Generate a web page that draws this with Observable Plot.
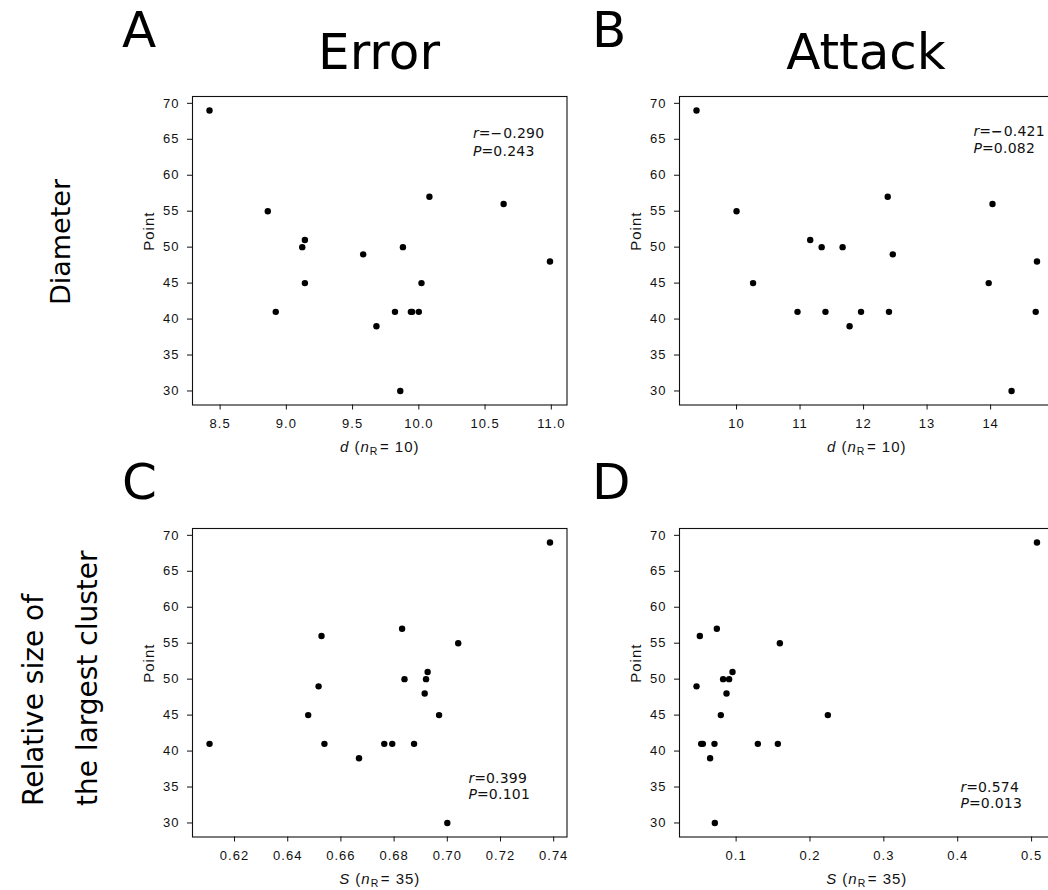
<!DOCTYPE html>
<html>
<head>
<meta charset="utf-8">
<script src="https://cdn.jsdelivr.net/npm/d3@7"></script>
<script src="https://cdn.jsdelivr.net/npm/@observablehq/plot@0.6"></script>
<style>
  html, body { margin: 0; padding: 0; background: #fff; overflow: hidden; }
  #fig { position: relative; width: 1048px; height: 890px; overflow: hidden; background: #fff; }
  .panel { position: absolute; }
  .panel svg { display: block; }
  #overlay { position: absolute; left: 0; top: 0; pointer-events: none; }
</style>
</head>
<body>
<div id="fig"></div>
<script>
// ---------------- DATA ----------------
const colTitles = ["Error", "Attack"];
const panelLetters = ["A", "B", "C", "D"];
const rowTitleDiameter = ["Diameter"];
const rowTitleCluster = ["Relative size of", "the largest cluster"];
const yLabel = "Point";
const yTicks = [30, 35, 40, 45, 50, 55, 60, 65, 70];

// Panel A: Error, diameter d
const dA = [8.42, 8.86, 8.92, 9.12, 9.14, 9.14, 9.58, 9.68, 9.82, 9.88, 9.86, 9.94, 9.95, 10.00, 10.02, 10.08, 10.64, 10.99];
const pA = [69, 55, 41, 50, 51, 45, 49, 39, 41, 50, 30, 41, 41, 41, 45, 57, 56, 48];
const xTicksA = [8.5, 9.0, 9.5, 10.0, 10.5, 11.0];

// Panel B: Attack, diameter d
const dB = [9.37, 10.00, 10.26, 10.96, 11.16, 11.34, 11.40, 11.67, 11.78, 11.96, 12.38, 12.40, 12.46, 13.97, 14.03, 14.33, 14.71, 14.73];
const pB = [69, 55, 45, 41, 51, 50, 41, 50, 39, 41, 57, 41, 49, 45, 56, 30, 41, 48];
const xTicksB = [10, 11, 12, 13, 14];

// Panel C: Error, relative size S
const sC = [0.6106, 0.6477, 0.6516, 0.6527, 0.6538, 0.6668, 0.6763, 0.6793, 0.6830, 0.6839, 0.6875, 0.6915, 0.6920, 0.6926, 0.6969, 0.7000, 0.7041, 0.7386];
const pC = [41, 45, 49, 56, 41, 39, 41, 41, 57, 50, 41, 48, 50, 51, 45, 30, 55, 69];
const xTicksC = [0.62, 0.64, 0.66, 0.68, 0.70, 0.72, 0.74];

// Panel D: Attack, relative size S
const sD = [0.0464, 0.0509, 0.0527, 0.0550, 0.0648, 0.0707, 0.0712, 0.0739, 0.0793, 0.0824, 0.0870, 0.0905, 0.0951, 0.1294, 0.1565, 0.1592, 0.2242, 0.5073];
const pD = [49, 56, 41, 41, 39, 41, 30, 57, 45, 50, 48, 50, 51, 41, 41, 55, 45, 69];
const xTicksD = [0.1, 0.2, 0.3, 0.4, 0.5];

// Statistics
const rVals = ["\u22120.290", "\u22120.421", "0.399", "0.574"];
const pVals = ["0.243", "0.082", "0.101", "0.013"];
const xVarNames = ["d", "d", "S", "S"];
const nR = ["10", "10", "35", "35"];

// ---------------- LAYOUT ----------------
const FW = 374.5, FH = 308.5;
const ML = 60, MR = 12, MT = 10, MB = 62;
const fig = d3.select("#fig");

function pad(vals) {
  const lo = d3.min(vals), hi = d3.max(vals), m = (hi - lo) * 0.05;
  return [lo - m, hi + m];
}

const panels = [
  {x: dA, y: pA, ticks: xTicksA, fmt: ".1f", L: 192, T: 96, anchor: "top-right", dx: -94, dy1: 41.5, dy2: 59, boldMinus: false},
  {x: dB, y: pB, ticks: xTicksB, fmt: "d", L: 678.5, T: 96, anchor: "top-right", dx: -80.5, dy1: 39, dy2: 56, boldMinus: true},
  {x: sC, y: pC, ticks: xTicksC, fmt: ".2f", L: 192, T: 528, anchor: "bottom-right", dx: -98.5, dy1: -54, dy2: -38.5, boldMinus: false},
  {x: sD, y: pD, ticks: xTicksD, fmt: ".1f", L: 678.5, T: 528, anchor: "bottom-right", dx: -93.5, dy1: -45.5, dy2: -29, boldMinus: false}
];

panels.forEach((pn, i) => {
  const rich = new Map();
  const data = pn.x.map((v, j) => ({x: v, y: pn.y[j]}));
  const xKey = `${xVarNames[i]} (nR = ${nR[i]})`;
  const rKey = `r=${rVals[i]}`;
  const pKey = `P=${pVals[i]}`;
  const neg = rVals[i].startsWith("\u2212");
  rich.set(xKey, {parts: [[xVarNames[i], {italic: true}], [" ("], ["n", {italic: true}], ["R", {sub: true}], ["= " + nR[i] + ")", {back: true}]]});
  rich.set(rKey, {stat: true, parts: [["r", {italic: true}], ["="], [neg ? "\u2212" : "", {bold: pn.boldMinus}], [rVals[i].replace("\u2212", ""), {ls: 0.2, dx: neg ? 1 : 0}]]});
  rich.set(pKey, {stat: true, parts: [["P", {italic: true}], ["="], [pVals[i], {ls: 0.3}]]});

  const svg = Plot.plot({
    width: ML + FW + MR,
    height: MT + FH + MB,
    marginLeft: ML, marginRight: MR, marginTop: MT, marginBottom: MB,
    style: {
      fontFamily: "'Liberation Sans', Arial, sans-serif",
      fontSize: "13px",
      letterSpacing: "1px",
      background: "transparent",
      color: "#111",
      maxWidth: "none",
      overflow: "visible"
    },
    x: {domain: pad(pn.x)},
    y: {domain: pad(pn.y)},
    marks: [
      Plot.axisX({ticks: pn.ticks, tickFormat: d3.format(pn.fmt), tickSize: 5, tickPadding: 9, label: null}),
      Plot.axisY({ticks: yTicks, tickSize: 5, tickPadding: 8, label: null}),
      Plot.dot(data, {x: "x", y: "y", r: 3.2, fill: "#000"}),
      Plot.frame({strokeWidth: 1.1}),
      Plot.text([xKey], {frameAnchor: "bottom", dy: 46.5, lineAnchor: "bottom", fontSize: 15}),
      Plot.text([yLabel], {frameAnchor: "left", dx: -39, rotate: -90, lineAnchor: "bottom", fontSize: 15}),
      Plot.text([rKey], {frameAnchor: pn.anchor, textAnchor: "start", lineAnchor: "bottom", dx: pn.dx, dy: pn.dy1,
        fontFamily: "'DejaVu Sans', sans-serif", fontSize: 14}),
      Plot.text([pKey], {frameAnchor: pn.anchor, textAnchor: "start", lineAnchor: "bottom", dx: pn.dx, dy: pn.dy2,
        fontFamily: "'DejaVu Sans', sans-serif", fontSize: 14})
    ]
  });

  // rich text (italic / subscript) post-processing
  d3.select(svg).selectAll("text").each(function () {
    if (this.children.length) return;
    const spec = rich.get(this.textContent);
    if (!spec) return;
    const el = d3.select(this);
    if (spec.stat) el.attr("letter-spacing", "0");
    this.textContent = "";
    spec.parts.forEach(([t, o = {}]) => {
      if (!t) return;
      const ts = el.append("tspan").text(t);
      if (o.italic) ts.attr("font-style", "italic");
      if (o.bold) ts.attr("font-weight", "bold");
      if (o.sub) ts.attr("font-size", "10.5px").attr("dy", "3").attr("letter-spacing", "0.5px");
      if (o.back) ts.attr("dy", "-3").attr("dx", "2");
      if (o.dx) ts.attr("dx", o.dx);
      if (o.ls) ts.attr("letter-spacing", o.ls + "px");
    });
  });

  fig.append("div")
    .attr("class", "panel")
    .style("left", (pn.L - ML) + "px")
    .style("top", (pn.T - MT) + "px")
    .style("width", (ML + FW + MR) + "px")
    .node().appendChild(svg);
});

// ---------------- TITLES / LABELS ----------------
const ov = fig.append("svg").attr("id", "overlay").attr("width", 1048).attr("height", 890)
  .style("font-family", "'DejaVu Sans', sans-serif").style("fill", "#000");

const letterPos = [[122, 47], [592, 47], [122, 499], [592, 499]];
panelLetters.forEach((t, i) => {
  ov.append("text").attr("x", letterPos[i][0]).attr("y", letterPos[i][1]).attr("font-size", 50).text(t);
});
const colCenters = [379, 866];
colTitles.forEach((t, i) => {
  ov.append("text").attr("x", colCenters[i]).attr("y", 69).attr("text-anchor", "middle").attr("font-size", 50).text(t);
});

ov.append("text")
  .attr("transform", "translate(70,242) rotate(-90)")
  .attr("text-anchor", "middle").attr("font-size", 27)
  .text(rowTitleDiameter[0]);

const clusterBaselines = [43, 97];
rowTitleCluster.forEach((t, i) => {
  ov.append("text")
    .attr("transform", `translate(${clusterBaselines[i]},806) rotate(-90)`)
    .attr("text-anchor", "start").attr("font-size", 28)
    .text(t);
});
</script>
</body>
</html>
